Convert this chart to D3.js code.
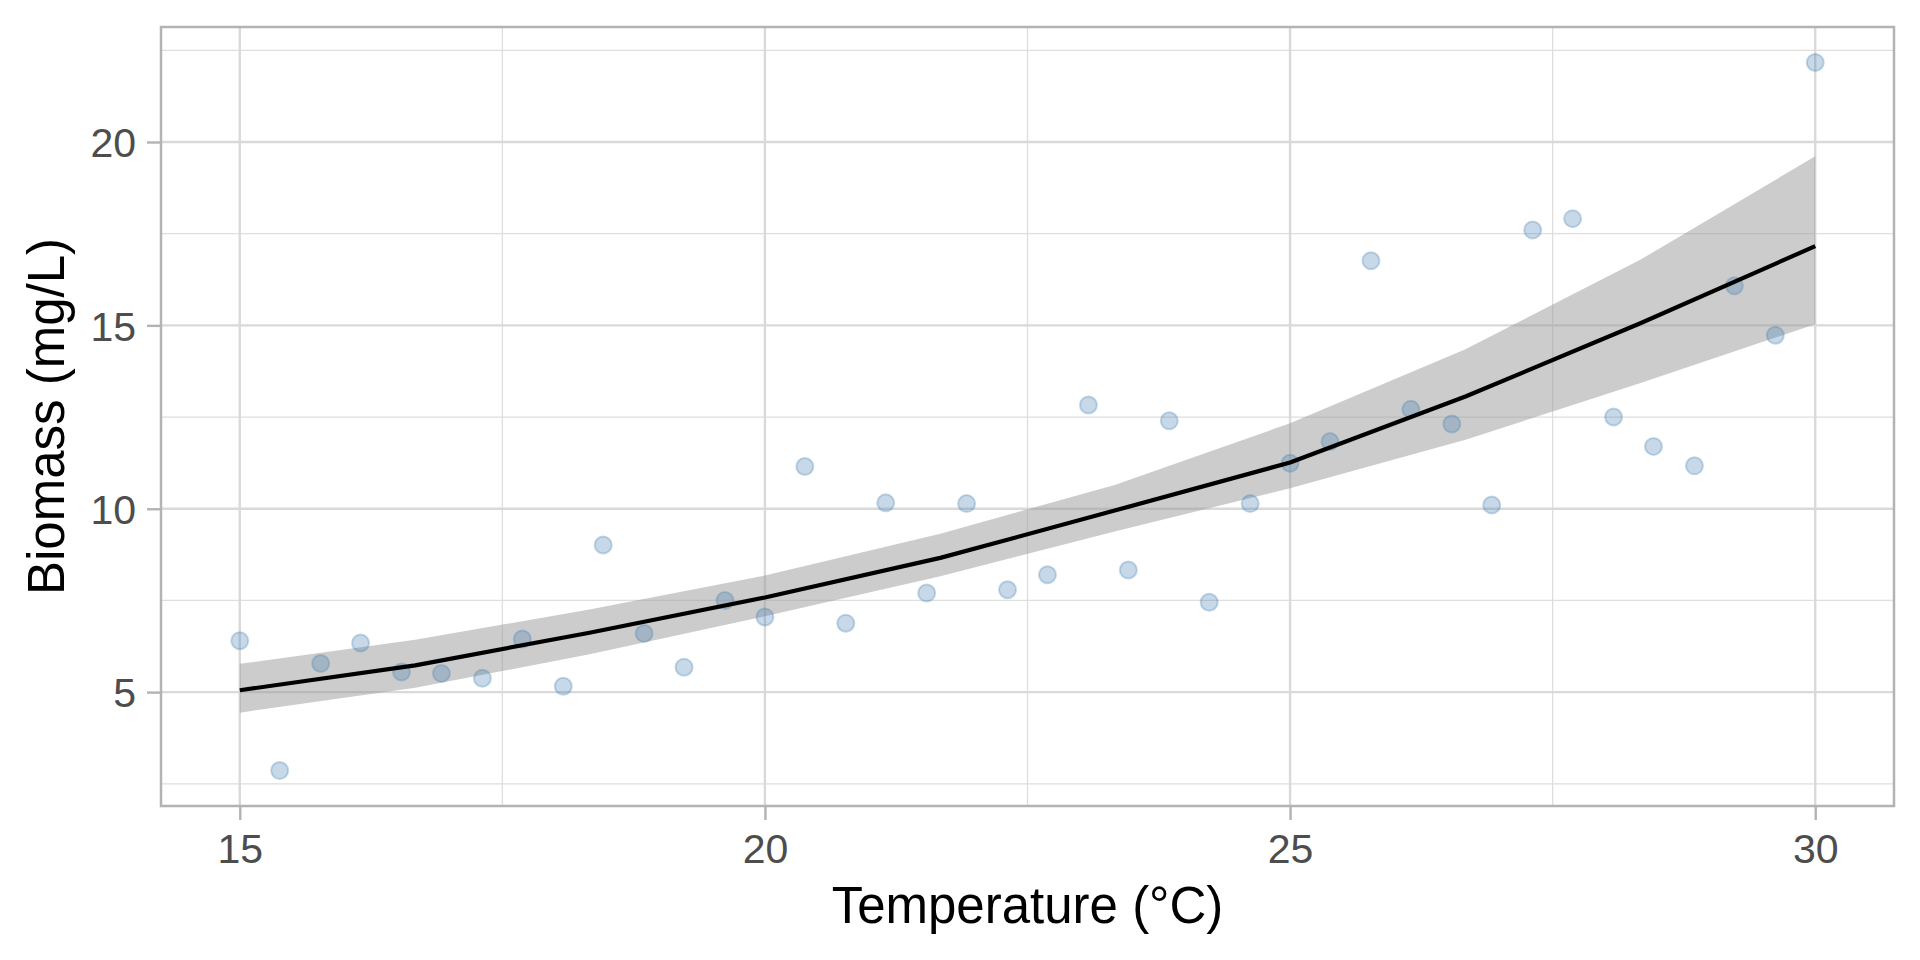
<!DOCTYPE html>
<html>
<head>
<meta charset="utf-8">
<script src="https://cdn.jsdelivr.net/npm/d3@7"></script>
<style>
  html, body { margin: 0; padding: 0; background: #fff; }
  svg { display: block; font-family: "Liberation Sans", Arial, Helvetica, sans-serif; }
</style>
</head>
<body>
<main></main>
<script>
// observed points
const temperature = [15.00, 15.38, 15.77, 16.15, 16.54, 16.92, 17.31, 17.69, 18.08, 18.46,
                     18.85, 19.23, 19.62, 20.00, 20.38, 20.77, 21.15, 21.54, 21.92, 22.31,
                     22.69, 23.08, 23.46, 23.85, 24.23, 24.62, 25.00, 25.38, 25.77, 26.15,
                     26.54, 26.92, 27.31, 27.69, 28.08, 28.46, 28.85, 29.23, 29.62, 30.00];
const biomass = [6.40, 2.86, 5.78, 6.34, 5.55, 5.51, 5.38, 6.45, 5.16, 9.01,
                 6.60, 5.68, 7.50, 7.05, 11.15, 6.88, 10.16, 7.70, 10.14, 7.79,
                 8.20, 12.83, 8.33, 12.40, 7.45, 10.14, 11.24, 11.83, 16.76, 12.71,
                 12.31, 10.10, 17.60, 17.91, 12.50, 11.70, 11.17, 16.08, 14.73, 22.17];

// fitted curve and confidence band
const fitX = [15.00, 16.67, 18.33, 20.00, 21.67, 23.33, 25.00, 26.67, 28.33, 30.00];
const fitY = [5.05, 5.73, 6.62, 7.58, 8.66, 9.95, 11.26, 13.06, 15.05, 17.16];
const fitUpper = [5.77, 6.43, 7.25, 8.18, 9.32, 10.65, 12.33, 14.35, 16.78, 19.61];
const fitLower = [4.44, 5.12, 6.03, 7.07, 8.16, 9.38, 10.56, 11.88, 13.42, 15.03];

const xTicks = [15, 20, 25, 30];
const xMinor = [17.5, 22.5, 27.5];
const yTicks = [5, 10, 15, 20];
const yMinor = [2.5, 7.5, 12.5, 17.5, 22.5];

const w = 1920;
const h = 960;
const pLeft = 161, pRight = 1894, pTop = 27, pBottom = 806;

const svg = d3.select('main').append('svg').attr('width', w).attr('height', h);

const pad = (ext, f) => [ext[0] - (ext[1] - ext[0]) * f, ext[1] + (ext[1] - ext[0]) * f];

const xScale = d3.scaleLinear()
    .domain(pad(d3.extent(temperature), 0.05))
    .range([pLeft, pRight]);
const yScale = d3.scaleLinear()
    .domain(pad(d3.extent(biomass), 0.05))
    .range([pBottom, pTop]);

// grid
const grid = svg.append('g');
grid.selectAll('.ymin').data(yMinor.filter(v => yScale(v) > pTop && yScale(v) < pBottom)).enter().append('line')
    .attr('x1', pLeft).attr('x2', pRight)
    .attr('y1', d => yScale(d)).attr('y2', d => yScale(d))
    .attr('stroke', '#dedede').attr('stroke-width', 1.3);
grid.selectAll('.xmin').data(xMinor).enter().append('line')
    .attr('y1', pTop).attr('y2', pBottom)
    .attr('x1', d => xScale(d)).attr('x2', d => xScale(d))
    .attr('stroke', '#dedede').attr('stroke-width', 1.3);
grid.selectAll('.ymaj').data(yTicks).enter().append('line')
    .attr('x1', pLeft).attr('x2', pRight)
    .attr('y1', d => yScale(d)).attr('y2', d => yScale(d))
    .attr('stroke', '#d9d9d9').attr('stroke-width', 2.4);
grid.selectAll('.xmaj').data(xTicks).enter().append('line')
    .attr('y1', pTop).attr('y2', pBottom)
    .attr('x1', d => xScale(d)).attr('x2', d => xScale(d))
    .attr('stroke', '#d9d9d9').attr('stroke-width', 2.4);

// confidence band
const fit = fitX.map((x, i) => ({x: x, y: fitY[i], lo: fitLower[i], hi: fitUpper[i]}));
svg.append('path')
    .datum(fit)
    .attr('d', d3.area().x(d => xScale(d.x)).y0(d => yScale(d.lo)).y1(d => yScale(d.hi)))
    .attr('fill', '#999999')
    .attr('fill-opacity', 0.5);

// points
svg.append('g').selectAll('circle').data(temperature).enter().append('circle')
    .attr('cx', d => xScale(d))
    .attr('cy', (d, i) => yScale(biomass[i]))
    .attr('r', 8.5)
    .attr('fill', 'steelblue')
    .attr('fill-opacity', 0.3)
    .attr('stroke', 'steelblue')
    .attr('stroke-opacity', 0.3)
    .attr('stroke-width', 2);

// fitted line
svg.append('path')
    .datum(fit)
    .attr('d', d3.line().x(d => xScale(d.x)).y(d => yScale(d.y)))
    .attr('fill', 'none')
    .attr('stroke', '#000')
    .attr('stroke-width', 4.2)
    .attr('stroke-linejoin', 'round');

// panel border
svg.append('rect')
    .attr('x', pLeft).attr('y', pTop)
    .attr('width', pRight - pLeft).attr('height', pBottom - pTop)
    .attr('fill', 'none')
    .attr('stroke', '#b3b3b3')
    .attr('stroke-width', 2.5);

// axes
const xAxis = d3.axisBottom(xScale).tickValues(xTicks).tickSize(13).tickPadding(14);
const yAxis = d3.axisLeft(yScale).tickValues(yTicks).tickSize(13).tickPadding(11);
const gx = svg.append('g')
    .attr('transform', `translate(0, ${pBottom + 1})`)
    .call(xAxis);
const gy = svg.append('g')
    .attr('transform', `translate(${pLeft - 1}, 0)`)
    .call(yAxis);
[gx, gy].forEach(g => {
    g.select('.domain').remove();
    g.selectAll('.tick line').attr('stroke', '#b3b3b3').attr('stroke-width', 2.4);
    g.selectAll('.tick text').attr('fill', '#4d4d4d').attr('font-size', 41)
        .attr('font-family', '"Liberation Sans", Arial, sans-serif');
});
gx.selectAll('.tick text').attr('dy', '0.71em');
gy.selectAll('.tick text').attr('dy', '0.36em');

// axis titles
svg.append('text')
    .attr('x', (pLeft + pRight) / 2)
    .attr('y', 923)
    .attr('text-anchor', 'middle')
    .attr('font-size', 51)
    .attr('fill', '#000')
    .text('Temperature (°C)');
svg.append('text')
    .attr('transform', `translate(64, ${(pTop + pBottom) / 2}) rotate(-90)`)
    .attr('text-anchor', 'middle')
    .attr('font-size', 51)
    .attr('fill', '#000')
    .text('Biomass (mg/L)');
</script>
</body>
</html>
